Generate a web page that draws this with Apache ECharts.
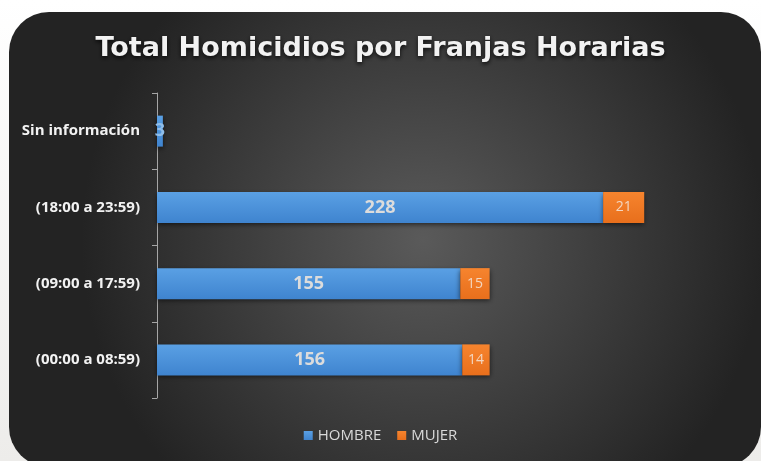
<!DOCTYPE html>
<html>
<head>
<meta charset="utf-8">
<script src="https://cdn.jsdelivr.net/npm/echarts@6/dist/echarts.min.js"></script>
<style>
  html, body { margin: 0; padding: 0; background: linear-gradient(#ffffff, #edecea); }
  #chart { width: 761px; height: 461px; }
</style>
</head>
<body>
<div id="chart"></div>
<script>
const categories = ['(00:00 a 08:59)', '(09:00 a 17:59)', '(18:00 a 23:59)', 'Sin información']
const hombre = [156, 155, 228, 3]
const mujer = [14, 15, 21, null]

const chart = echarts.init(document.getElementById('chart'))

chart.setOption({
  textStyle: { fontFamily: 'Open Sans' },
  graphic: [{
    type: 'rect',
    z: -10,
    shape: { x: 9, y: 12, width: 752, height: 455, r: 40 },
    style: {
      fill: {
        type: 'radial', x: 0.55, y: 0.5, r: 0.75,
        colorStops: [
          { offset: 0, color: '#5a5a5a' },
          { offset: 1, color: '#232323' }
        ]
      }
    }
  }],
  title: {
    text: 'Total Homicidios por Franjas Horarias',
    left: 'center',
    top: 30,
    textStyle: {
      color: '#f2f2f2',
      fontSize: 27,
      fontWeight: 'bold',
      fontFamily: 'DejaVu Sans',
      textShadowColor: 'rgba(0,0,0,0.8)',
      textShadowBlur: 4,
      textShadowOffsetY: 2
    }
  },
  legend: {
    bottom: 13,
    left: 'center',
    itemWidth: 9,
    itemHeight: 9,
    itemGap: 16,
    icon: 'rect',
    textStyle: { color: '#d9d9d9', fontSize: 15, fontFamily: 'Open Sans' },
    data: ['HOMBRE', 'MUJER']
  },
  grid: { left: 157, right: 17, top: 93, bottom: 63 },
  xAxis: {
    type: 'value',
    min: 0,
    max: 300,
    show: false
  },
  yAxis: {
    type: 'category',
    data: categories,
    axisLine: { lineStyle: { color: '#a6a6a6', width: 1 } },
    axisTick: { show: true, length: 5, lineStyle: { color: '#a6a6a6' } },
    axisLabel: { color: '#f2f2f2', fontSize: 15, fontWeight: 'bold', fontFamily: 'Open Sans', margin: 17 }
  },
  series: [
    {
      name: 'HOMBRE',
      type: 'bar',
      stack: 'total',
      barWidth: 31,
      // tiny bar: label spills over the background, shown in light blue
      data: hombre.map(v => v < 10 ? { value: v, label: { color: '#8fbde9' } } : v),
      itemStyle: {
        color: {
          type: 'linear', x: 0, y: 0, x2: 0, y2: 1,
          colorStops: [
            { offset: 0, color: '#5aa0e4' },
            { offset: 1, color: '#3f84cf' }
          ]
        },
        shadowColor: 'rgba(0,0,0,0.6)',
        shadowBlur: 5,
        shadowOffsetY: 2
      },
      label: {
        show: true,
        position: 'inside',
        color: '#dcdcdc',
        fontSize: 18,
        fontWeight: 'bold',
        fontFamily: 'Open Sans'
      }
    },
    {
      name: 'MUJER',
      type: 'bar',
      stack: 'total',
      barWidth: 31,
      data: mujer,
      itemStyle: {
        color: {
          type: 'linear', x: 0, y: 0, x2: 0, y2: 1,
          colorStops: [
            { offset: 0, color: '#f6842e' },
            { offset: 1, color: '#e86f1c' }
          ]
        },
        shadowColor: 'rgba(0,0,0,0.6)',
        shadowBlur: 5,
        shadowOffsetY: 2
      },
      label: {
        show: true,
        position: 'inside',
        color: '#f3d6c0',
        fontSize: 14,
        fontFamily: 'Open Sans'
      }
    }
  ]
})
</script>
</body>
</html>
